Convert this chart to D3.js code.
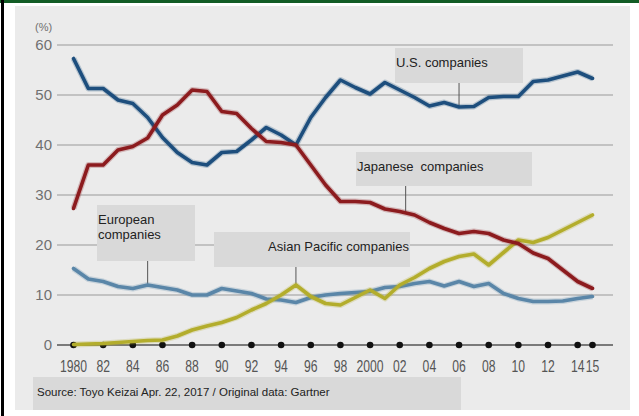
<!DOCTYPE html>
<html>
<head>
<meta charset="utf-8">
<script src="https://cdn.jsdelivr.net/npm/d3@7"></script>
<style>
  body { margin: 0; background: #fff; }
  svg { display: block; }
</style>
</head>
<body>
<div id="chart"></div>
<script>
// share of semiconductor market, by region of company (%)
var years = d3.range(1980, 2016);
var usData = [57.3, 51.3, 51.3, 49, 48.3, 45.5, 41.5, 38.5, 36.5, 36, 38.5, 38.7, 41, 43.5, 42, 40,
  45.5, 49.5, 53, 51.5, 50.2, 52.5, 51, 49.5, 47.8, 48.5, 47.6, 47.7, 49.5, 49.7, 49.7, 52.7, 53, 53.8, 54.6, 53.3];
var japanData = [27.3, 36, 36, 39, 39.7, 41.4, 46, 48, 51, 50.7, 46.7, 46.3, 43.3, 40.7, 40.5, 40,
  36, 32, 28.7, 28.7, 28.5, 27.2, 26.7, 26, 24.5, 23.3, 22.3, 22.7, 22.3, 21, 20.3, 18.4, 17.3, 15, 12.7, 11.3];
var asiaData = [0.1, 0.2, 0.3, 0.5, 0.7, 0.9, 1, 1.8, 3, 3.8, 4.5, 5.5, 7, 8.3, 10, 12,
  9.7, 8.3, 8, 9.5, 11, 9.3, 12, 13.5, 15.3, 16.7, 17.7, 18.2, 16, 18.5, 21, 20.5, 21.5, 23, 24.5, 26];
var europeData = [15.3, 13.2, 12.7, 11.7, 11.3, 12, 11.5, 11, 10, 10, 11.3, 10.8, 10.3, 9.2, 9, 8.5,
  9.5, 10, 10.3, 10.5, 10.7, 11.5, 11.7, 12.3, 12.7, 11.8, 12.7, 11.7, 12.3, 10.3, 9.3, 8.7, 8.7, 8.8, 9.3, 9.7];

var yTicks = [0, 10, 20, 30, 40, 50, 60];
var xTickYears = [1980, 1982, 1984, 1986, 1988, 1990, 1992, 1994, 1996, 1998, 2000, 2002, 2004, 2006, 2008, 2010, 2012, 2014, 2015];
var xTickLabels = ["1980", "82", "84", "86", "88", "90", "92", "94", "96", "98", "2000", "02", "04", "06", "08", "10", "12", "14", "15"];

var seriesNames = ["European", "Asian Pacific", "U.S.", "Japanese"];
var seriesValues = [europeData, asiaData, usData, japanData];
var seriesColors = ["#5a86a8", "#b3ad2c", "#1d4e7d", "#8c1b1e"];

var width = 639, height = 416;

var x = d3.scaleLinear().domain([1980, 2015]).range([73.5, 592.5]);
var y = d3.scaleLinear().domain([0, 60]).range([345, 45]);

var svg = d3.select("#chart").append("svg")
    .attr("width", width)
    .attr("height", height);

// frame
svg.append("rect").attr("x", 15).attr("y", 6).attr("width", 615).attr("height", 404).attr("fill", "#ebebeb");
svg.append("rect").attr("x", 0).attr("y", 0).attr("width", width).attr("height", 3).attr("fill", "#125c25");
svg.append("rect").attr("x", 1).attr("y", 0).attr("width", 3).attr("height", height).attr("fill", "#000");

// grid
svg.append("g")
  .selectAll("line")
  .data(yTicks.filter(d => d > 0))
  .join("line")
    .attr("x1", 57).attr("x2", 613)
    .attr("y1", d => y(d)).attr("y2", d => y(d))
    .attr("stroke", "#b4b4b4")
    .attr("stroke-width", 1.5);

svg.append("line")
    .attr("x1", 57).attr("x2", 613)
    .attr("y1", y(0)).attr("y2", y(0))
    .attr("stroke", "#555")
    .attr("stroke-width", 1.5);

svg.append("g")
  .selectAll("text")
  .data(yTicks)
  .join("text")
    .attr("x", 52)
    .attr("y", d => y(d))
    .attr("dy", "0.36em")
    .attr("text-anchor", "end")
    .attr("font-family", "Liberation Sans, Arial, sans-serif")
    .attr("font-size", 15)
    .attr("fill", "#707070")
    .text(d => d);

svg.append("text")
    .attr("x", 35).attr("y", 31)
    .attr("font-family", "Liberation Sans, Arial, sans-serif")
    .attr("font-size", 11)
    .attr("fill", "#707070")
    .text("(%)");

// x ticks: dots and labels (narrow look by squeezing horizontally)
svg.append("g")
  .selectAll("circle")
  .data(xTickYears)
  .join("circle")
    .attr("cx", d => x(d))
    .attr("cy", y(0))
    .attr("r", 3.3)
    .attr("fill", "#111");

svg.append("g")
  .selectAll("text")
  .data(xTickYears)
  .join("text")
    .attr("transform", d => "translate(" + x(d) + ",372) scale(0.76,1)")
    .attr("text-anchor", "middle")
    .attr("font-family", "Liberation Sans, Arial, sans-serif")
    .attr("font-size", 16)
    .attr("fill", "#555")
    .text((d, i) => xTickLabels[i]);

// label boxes
var labels = [
  { lines: ["U.S. companies"], x0: 395, y0: 48, w: 128, h: 35, tx: 396, anchor: "start", year: 2006, idx: 2 },
  { lines: ["Japanese  companies"], x0: 356, y0: 152, w: 176, h: 34, tx: 357, anchor: "start", year: 2002.4, idx: 3 },
  { lines: ["European", "companies"], x0: 97, y0: 205, w: 98, h: 56, tx: 98, anchor: "start", year: 1985, idx: 0 },
  { lines: ["Asian Pacific companies"], x0: 214, y0: 232, w: 196, h: 35, tx: 409, anchor: "end", year: 1995, idx: 1 }
];

var lab = svg.append("g").selectAll("g").data(labels).join("g");

lab.append("rect")
    .attr("x", d => d.x0).attr("y", d => d.y0)
    .attr("width", d => d.w).attr("height", d => d.h)
    .attr("fill", "#d9d9d9");

lab.append("line")
    .attr("x1", d => x(d.year)).attr("x2", d => x(d.year))
    .attr("y1", d => d.y0 + d.h)
    .attr("y2", d => y(seriesValues[d.idx][Math.round(d.year) - 1980]))
    .attr("stroke", "#555")
    .attr("stroke-width", 1);

lab.each(function(d) {
  var g = d3.select(this);
  d.lines.forEach(function(t, i) {
    g.append("text")
      .attr("x", d.tx)
      .attr("y", d.y0 + 14 + i * 15.5)
      .attr("dy", "0.35em")
      .attr("text-anchor", d.anchor)
      .attr("font-family", "Liberation Sans, Arial, sans-serif")
      .attr("font-size", 13)
      .attr("fill", "#222")
      .style("white-space", "pre")
      .text(t);
  });
});

// series lines
var line = d3.line()
    .x((d, i) => x(years[i]))
    .y(d => y(d));

var seriesG = svg.append("g").selectAll("g")
  .data(seriesValues)
  .join("g");

seriesG.append("path")
    .attr("d", d => line(d))
    .attr("fill", "none")
    .attr("stroke", (d, i) => seriesColors[i])
    .attr("stroke-opacity", 0.25)
    .attr("stroke-width", 6)
    .attr("stroke-linejoin", "round");

seriesG.append("path")
    .attr("d", d => line(d))
    .attr("fill", "none")
    .attr("stroke", (d, i) => seriesColors[i])
    .attr("stroke-width", 3.6)
    .attr("stroke-linejoin", "round")
    .attr("stroke-linecap", "round");

// source
svg.append("rect")
    .attr("x", 33).attr("y", 377)
    .attr("width", 428).attr("height", 33)
    .attr("fill", "#d9d9d9");

svg.append("text")
    .attr("x", 37).attr("y", 392)
    .attr("dy", "0.35em")
    .attr("font-family", "Liberation Sans, Arial, sans-serif")
    .attr("font-size", 11.5)
    .attr("fill", "#222")
    .text("Source: Toyo Keizai Apr. 22, 2017 / Original data: Gartner");
</script>
</body>
</html>
